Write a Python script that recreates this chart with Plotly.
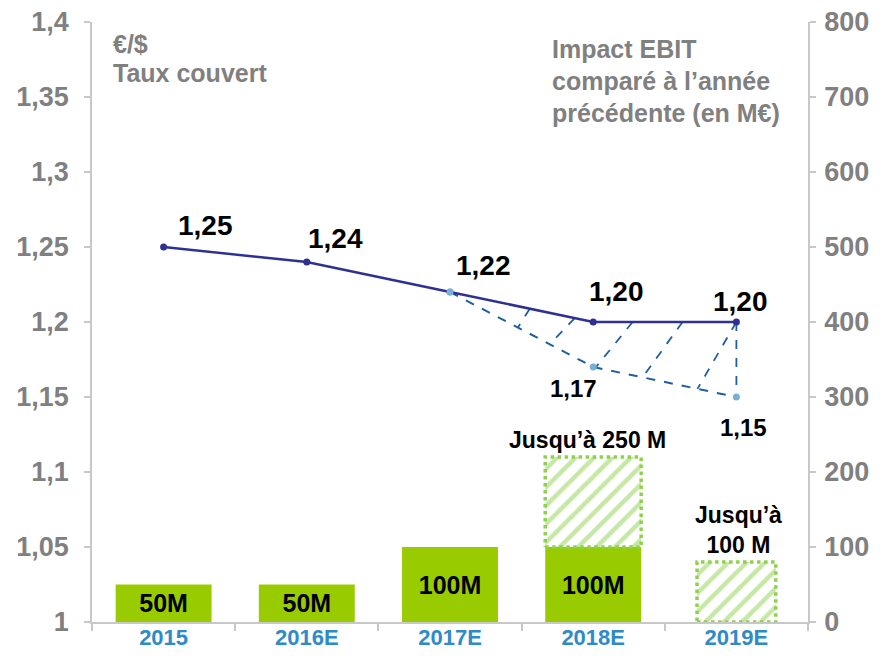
import numpy as np
import plotly.graph_objects as go

categories = ["2015", "2016E", "2017E", "2018E", "2019E"]
rate_hedged = [1.25, 1.24, 1.22, 1.20, 1.20]
rate_labels = ["1,25", "1,24", "1,22", "1,20", "1,20"]
rate_low_x = [2, 3, 4]
rate_low = [1.22, 1.17, 1.15]
rate_low_labels = ["1,17", "1,15"]
ebit_solid = [50, 50, 100, 100, None]
ebit_solid_labels = ["50M", "50M", "100M", "100M", ""]
ebit_range_base = [None, None, None, 100, 0]
ebit_range = [None, None, None, 120, 80]
ebit_range_labels = ["Jusqu’à 250 M", "Jusqu’à<br>100 M"]
left_ticks = [1, 1.05, 1.1, 1.15, 1.2, 1.25, 1.3, 1.35, 1.4]
left_tick_text = ["1", "1,05", "1,1", "1,15", "1,2", "1,25", "1,3", "1,35", "1,4"]
right_ticks = [0, 100, 200, 300, 400, 500, 600, 700, 800]
left_title_lines = ["€/$", "Taux couvert"]
right_title_lines = ["Impact EBIT", "comparé à l’année", "précédente (en M€)"]

FONT = "Liberation Sans, Arial, sans-serif"
GREEN = "#99CC00"
LGREEN = "#8ED14E"
NAVY = "#2E3192"
DBLUE = "#1F5FA0"
LBLUE = "#7AAFD6"
GRAY = "#808080"
AX = "#C8C8C8"

x = np.arange(len(categories))
fig = go.Figure()

# solid bars
fig.add_trace(go.Bar(
    x=x, y=ebit_solid, yaxis="y2", marker=dict(color=GREEN, line=dict(width=0)),
    width=0.67, text=ebit_solid_labels, textposition="inside", insidetextanchor="middle",
    textfont=dict(family=FONT, size=25, color="black", weight="bold"), textangle=0,
    constraintext="none", cliponaxis=False,
    showlegend=False, hoverinfo="skip"))

# hatched range bars
widths = [0.67, 0.67, 0.67, 0.67, 0.55]
fig.add_trace(go.Bar(
    x=x, y=ebit_range, base=ebit_range_base, yaxis="y2", width=widths,
    marker=dict(color="white", line=dict(width=0),
                pattern=dict(shape="/", fgcolor=LGREEN, bgcolor="white", size=13, solidity=0.35)),
    showlegend=False, hoverinfo="skip"))

# dotted outlines of hatched bars
for i in range(len(categories)):
    if ebit_range[i] is None:
        continue
    b = ebit_range_base[i]
    t = b + ebit_range[i]
    hw = widths[i] / 2
    fig.add_trace(go.Scatter(
        x=[i - hw, i + hw, i + hw, i - hw, i - hw], y=[b, b, t, t, b], yaxis="y2",
        mode="lines", line=dict(color=LGREEN, width=3.5, dash="dot"),
        showlegend=False, hoverinfo="skip", cliponaxis=False))

# hatch lines between the two rate lines
up_x = [2.557, 2.871, 3.275, 3.624, 4.0]
lo_x = [2.474, 2.697, 3.017, 3.345, 3.728]
hx, hy = [], []
for ux, lx in zip(up_x, lo_x):
    hx += [ux, lx, None]
    hy += [float(np.interp(ux, x, rate_hedged)), float(np.interp(lx, rate_low_x, rate_low)), None]
hx += [4, 4, None]
hy += [rate_hedged[4], rate_low[-1], None]
fig.add_trace(go.Scatter(x=hx, y=hy, mode="lines",
                         line=dict(color=DBLUE, width=1.8, dash="dash"),
                         showlegend=False, hoverinfo="skip"))

# low dashed line
fig.add_trace(go.Scatter(x=rate_low_x, y=rate_low, mode="lines+markers",
                         line=dict(color=DBLUE, width=2, dash="dash"),
                         marker=dict(color=LBLUE, size=7),
                         showlegend=False, hoverinfo="skip"))

# main hedged line
fig.add_trace(go.Scatter(x=x, y=rate_hedged, mode="lines+markers",
                         line=dict(color=NAVY, width=2.5),
                         marker=dict(color=[NAVY, NAVY, LBLUE, NAVY, NAVY], size=7),
                         showlegend=False, hoverinfo="skip"))

annotations = []
shifts = [(42, 22), (29, 24), (33, 27), (23, 31), (4, 21)]
for i, (dx, dy) in enumerate(shifts):
    annotations.append(dict(x=x[i], y=rate_hedged[i], text=rate_labels[i], showarrow=False,
                            xshift=dx, yshift=dy,
                            font=dict(family=FONT, size=28, color="black", weight="bold")))
low_shifts = [(-20, -21), (7, -30)]
for j, (dx, dy) in enumerate(low_shifts):
    annotations.append(dict(x=rate_low_x[j + 1], y=rate_low[j + 1], text=rate_low_labels[j],
                            showarrow=False, xshift=dx, yshift=dy,
                            font=dict(family=FONT, size=24, color="black", weight="bold")))
annotations.append(dict(x=3, y=ebit_range_base[3] + ebit_range[3], yref="y2",
                        text=ebit_range_labels[0], showarrow=False, yanchor="bottom", yshift=2,
                        xshift=-6, font=dict(family=FONT, size=23, color="black", weight="bold")))
annotations.append(dict(x=4, y=ebit_range_base[4] + ebit_range[4], yref="y2",
                        text=ebit_range_labels[1], showarrow=False, yanchor="bottom", yshift=2,
                        xshift=2, font=dict(family=FONT, size=23, color="black", weight="bold")))
for k, line in enumerate(left_title_lines):
    annotations.append(dict(xref="paper", yref="paper", x=0.027, y=1.0, yshift=-22 - 29 * k,
                            xanchor="left", yanchor="middle", text=line, showarrow=False,
                            font=dict(family=FONT, size=25, color=GRAY, weight="bold")))
for k, line in enumerate(right_title_lines):
    annotations.append(dict(xref="paper", yref="paper", x=0.64, y=1.0, yshift=-27 - 32 * k,
                            xanchor="left", yanchor="middle", text=line, showarrow=False,
                            font=dict(family=FONT, size=25, color=GRAY, weight="bold")))

fig.update_layout(
    width=871, height=643,
    margin=dict(l=84, r=71, t=14, b=29),
    paper_bgcolor="white", plot_bgcolor="white",
    barmode="overlay",
    showlegend=False,
    annotations=annotations,
    xaxis=dict(range=[-0.5, 4.5], tickmode="array", tickvals=list(x), ticktext=categories,
               ticks="", showgrid=False, zeroline=False, automargin=False,
               showline=True, linecolor=AX, linewidth=1.5, ticklabelstandoff=-5,
               tickfont=dict(family=FONT, size=22, color="#2E8BC7", weight="bold"),
               minor=dict(ticks="outside", tick0=-0.5, dtick=1, ticklen=7, tickcolor=AX, tickwidth=1.5)),
    yaxis=dict(range=[1, 1.4], tickmode="array", tickvals=left_ticks, ticktext=left_tick_text,
               ticks="outside", ticklen=6, tickcolor=AX, tickwidth=1.5, automargin=False,
               showgrid=False, zeroline=False, showline=True, linecolor=AX, linewidth=1.5,
               ticklabelstandoff=10, ticklabeloverflow="allow",
               tickfont=dict(family=FONT, size=27, color=GRAY, weight="bold")),
    yaxis2=dict(range=[0, 800], overlaying="y", side="right", tickmode="array", tickvals=right_ticks,
                ticks="outside", ticklen=6, tickcolor=AX, tickwidth=1.5, automargin=False,
                showgrid=False, zeroline=False, showline=True, linecolor=AX, linewidth=1.5,
                ticklabelstandoff=3, ticklabeloverflow="allow",
                tickfont=dict(family=FONT, size=27, color=GRAY, weight="bold")),
)

fig.write_html("out.html")
